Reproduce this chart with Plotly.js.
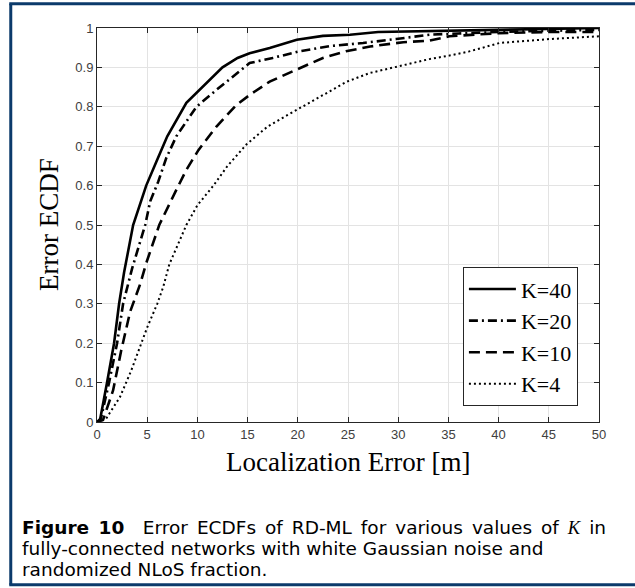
<!DOCTYPE html>
<html>
<head>
<meta charset="utf-8">
<script src="https://cdn.plot.ly/plotly-3.0.1.min.js"></script>
<style>
html,body{margin:0;padding:0;background:#fff;}
#chart{width:635px;height:588px;}
</style>
</head>
<body>
<div id="chart"></div>
<script>
// ---- data ----
const seriesNames = ["K=40", "K=20", "K=10", "K=4"];

const k40_x = [0, 0.3, 1.0, 1.7, 2.2, 2.7, 3.6, 4.9, 5.9, 6.5, 7.0, 8.9, 10.9, 12.5, 14.0, 15.2, 17.2, 19.9, 22.5, 25.2, 28, 33, 38, 45, 50];
const k40_y = [0, 0.005, 0.1, 0.2, 0.3, 0.38, 0.5, 0.6, 0.66, 0.695, 0.725, 0.81, 0.86, 0.9, 0.924, 0.936, 0.949, 0.97, 0.98, 0.983, 0.99, 0.992, 0.995, 0.998, 1.0];

const k20_x = [0, 0.4, 1.2, 2.0, 2.6, 3.5, 4.8, 5.3, 6.1, 6.9, 7.9, 9.9, 11.9, 14.0, 15.2, 17.5, 20.2, 23.2, 26.5, 29.8, 33.1, 36, 40, 45, 50];
const k20_y = [0, 0.01, 0.1, 0.2, 0.3, 0.39, 0.5, 0.56, 0.61, 0.67, 0.725, 0.8, 0.843, 0.886, 0.911, 0.924, 0.941, 0.954, 0.962, 0.972, 0.983, 0.986, 0.99, 0.993, 0.995];

const k10_x = [0, 0.6, 1.6, 2.4, 3.3, 4.3, 4.9, 6.2, 7.9, 8.9, 10.1, 11.9, 13.9, 15.2, 17.2, 19.9, 22.5, 24.8, 27.2, 30.5, 33.1, 35.1, 40, 45, 50];
const k10_y = [0, 0.005, 0.08, 0.18, 0.28, 0.35, 0.403, 0.5, 0.589, 0.64, 0.69, 0.75, 0.805, 0.83, 0.864, 0.894, 0.924, 0.941, 0.953, 0.964, 0.968, 0.979, 0.987, 0.99, 0.99];

const k4_x = [0, 0.9, 2.3, 3.4, 5.0, 6.0, 6.6, 7.2, 8.9, 10.0, 11.6, 13.0, 14.9, 17, 18.9, 20.2, 22.2, 24.9, 27.2, 30.1, 33.1, 35.1, 37, 40.1, 45.1, 50];
const k4_y = [0, 0.008, 0.064, 0.13, 0.24, 0.3, 0.343, 0.4, 0.5, 0.55, 0.6, 0.65, 0.705, 0.75, 0.778, 0.797, 0.826, 0.864, 0.886, 0.903, 0.921, 0.93, 0.94, 0.962, 0.972, 0.979];

const xTickVals = [0, 5, 10, 15, 20, 25, 30, 35, 40, 45, 50];
const yTickVals = [0, 0.1, 0.2, 0.3, 0.4, 0.5, 0.6, 0.7, 0.8, 0.9, 1];
const yTickText = ["0", "0.1", "0.2", "0.3", "0.4", "0.5", "0.6", "0.7", "0.8", "0.9", "1"];

const xTitle = "Localization Error [m]";
const yTitle = "Error ECDF";
const sp = "\u2006 ";
const captionLines = [
  "<b>Figure" + sp + "10</b>\u2003Error" + sp + "ECDFs" + sp + "of" + sp + "RD-ML" + sp + "for" + sp + "various" + sp + "values" + sp + "of" + sp + "<span style=\"font-family:'Liberation Serif'\"><i>K</i></span>" + sp + "in",
  "fully-connected networks with white Gaussian noise and",
  "randomized NLoS fraction."
];

// ---- traces ----
const traces = [
  {x: k40_x, y: k40_y, name: seriesNames[0], mode: "lines", line: {color: "#000", width: 2.6, dash: "solid"}},
  {x: k20_x, y: k20_y, name: seriesNames[1], mode: "lines", line: {color: "#000", width: 2.6, dash: "9px,4px,2px,4px"}},
  {x: k10_x, y: k10_y, name: seriesNames[2], mode: "lines", line: {color: "#000", width: 2.6, dash: "11px,6px"}},
  {x: k4_x, y: k4_y, name: seriesNames[3], mode: "lines", line: {color: "#000", width: 2, dash: "2px,3px"}}
];

const axisCommon = {
  showline: true, linecolor: "#262626", linewidth: 1, mirror: "ticks",
  ticks: "inside", ticklen: 5, tickwidth: 1, tickcolor: "#262626",
  showgrid: true, gridcolor: "#e3e3e3", gridwidth: 1, zeroline: false,
  tickfont: {family: "Liberation Sans, Arial, sans-serif", size: 13, color: "#404040"},
  fixedrange: true
};

const frameColor = "#0b3a6b";
const serif = "Liberation Serif, serif";
const captionFont = {family: "DejaVu Sans, sans-serif", size: 18.5, color: "#000"};
const layout = {
  width: 635, height: 588,
  margin: {l: 97, r: 36, t: 28, b: 166},
  paper_bgcolor: "#fff", plot_bgcolor: "#fff",
  showlegend: true,
  xaxis: Object.assign({}, axisCommon, {range: [0, 50], tickvals: xTickVals, ticktext: xTickVals.map(String)}),
  yaxis: Object.assign({}, axisCommon, {range: [0, 1], tickvals: yTickVals, ticktext: yTickText}),
  legend: {
    x: 0.958, xanchor: "right", y: 0.04, yanchor: "bottom",
    bgcolor: "#fff", bordercolor: "#262626", borderwidth: 1,
    font: {family: serif, size: 22, color: "#000"},
    itemwidth: 47, tracegroupgap: 0
  },
  annotations: [
    {xref: "paper", yref: "paper", x: 0.5, y: -0.1015, xanchor: "center", yanchor: "middle",
     text: xTitle, showarrow: false, font: {family: serif, size: 27, color: "#000"}},
    {xref: "paper", yref: "paper", x: -0.0956, y: 0.5, xanchor: "center", yanchor: "middle", textangle: -90,
     text: yTitle, showarrow: false, font: {family: serif, size: 27, color: "#000"}},
    {xref: "paper", yref: "paper", x: -0.1534, y: -0.2665, xanchor: "left", yanchor: "middle", align: "left",
     text: captionLines[0], showarrow: false, font: captionFont},
    {xref: "paper", yref: "paper", x: -0.1534, y: -0.3198, xanchor: "left", yanchor: "middle", align: "left",
     text: captionLines[1], showarrow: false, font: captionFont},
    {xref: "paper", yref: "paper", x: -0.1534, y: -0.3731, xanchor: "left", yanchor: "middle", align: "left",
     text: captionLines[2], showarrow: false, font: captionFont}
  ],
  shapes: [
    {type: "line", xref: "paper", yref: "paper", x0: -0.1718, x1: -0.1718, y0: 1.0617, y1: -0.4128, line: {color: frameColor, width: 3}},
    {type: "line", xref: "paper", yref: "paper", x0: -0.1748, x1: 1.09, y0: 1.0617, y1: 1.0617, line: {color: frameColor, width: 3}},
    {type: "line", xref: "paper", yref: "paper", x0: -0.1748, x1: 1.09, y0: -0.4128, y1: -0.4128, line: {color: frameColor, width: 3}}
  ]
};

Plotly.newPlot("chart", traces, layout, {staticPlot: true, displayModeBar: false});
</script>
</body>
</html>
